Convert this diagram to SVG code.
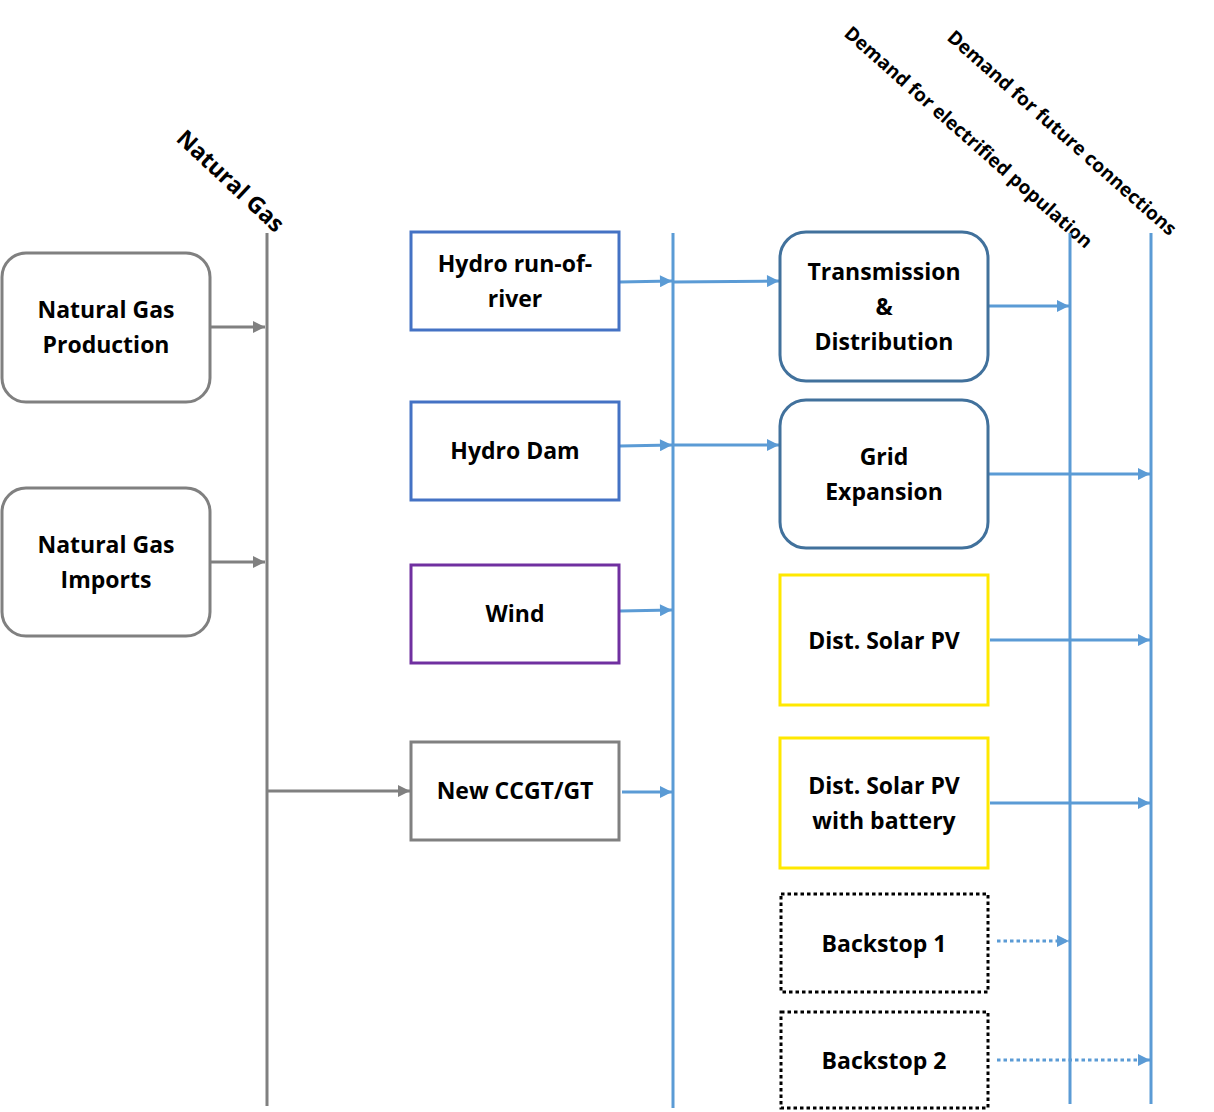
<svg xmlns="http://www.w3.org/2000/svg" width="1214" height="1112" viewBox="0 0 1214 1112">
  <style>
    text { font-family: "Open Sans", "Liberation Sans", sans-serif; font-weight: 700; fill: #000; }
    .lbl { font-size: 23px; text-anchor: middle; }
    .axis { font-size: 19px; }
    .gas { fill: #fff; stroke: #808080; stroke-width: 3; }
    .hydro { fill: #fff; stroke: #4472C4; stroke-width: 3; }
    .wind { fill: #fff; stroke: #7030A0; stroke-width: 3; }
    .grid { fill: #fff; stroke: #41719C; stroke-width: 3; }
    .solar { fill: #fff; stroke: #FFE800; stroke-width: 3; }
    .backstop { fill: #fff; stroke: #000; stroke-width: 3; stroke-dasharray: 3.5 3; }
    .bus-gray { stroke: #808080; stroke-width: 3; fill: none; }
    .bus-blue { stroke: #5B9BD5; stroke-width: 3; fill: none; }
    .flow-gray { stroke: #808080; stroke-width: 3; fill: none; marker-end: url(#arrGray); }
    .flow-blue { stroke: #5B9BD5; stroke-width: 3; fill: none; marker-end: url(#arrBlue); }
    .flow-dot { stroke: #5B9BD5; stroke-width: 3; fill: none; stroke-dasharray: 3.5 3; marker-end: url(#arrBlue); }
  </style>
  <defs>
    <marker id="arrGray" viewBox="0 0 10 10" refX="10" refY="5" markerWidth="4.5" markerHeight="4" orient="auto" markerUnits="strokeWidth">
      <path d="M0,0 L10,5 L0,10 z" fill="#808080"/>
    </marker>
    <marker id="arrBlue" viewBox="0 0 10 10" refX="10" refY="5" markerWidth="4.5" markerHeight="4" orient="auto" markerUnits="strokeWidth">
      <path d="M0,0 L10,5 L0,10 z" fill="#5B9BD5"/>
    </marker>
  </defs>

  <rect width="1214" height="1112" fill="#fff"/>

  <!-- axis labels -->
  <text class="lbl" style="text-anchor:start" transform="translate(175,140) rotate(43)">Natural Gas</text>
  <text class="axis" transform="translate(843,35) rotate(41.5)">Demand for electrified population</text>
  <text class="axis" transform="translate(946,39) rotate(41.5)">Demand for future connections</text>

  <!-- connectors -->
  <g id="connectors">
    <line class="bus-gray" x1="267" y1="233" x2="267" y2="1106"/>
    <line class="bus-blue" x1="673" y1="233" x2="673" y2="1108"/>
    <line class="bus-blue" x1="1070" y1="233" x2="1070" y2="1104"/>
    <line class="bus-blue" x1="1151" y1="233" x2="1151" y2="1104"/>

    <line class="flow-gray" x1="210" y1="327" x2="265" y2="327"/>
    <line class="flow-gray" x1="210" y1="562" x2="265" y2="562"/>
    <line class="flow-gray" x1="267" y1="791" x2="410" y2="791"/>

    <line class="flow-blue" x1="620" y1="282" x2="672" y2="281"/>
    <line class="flow-blue" x1="673" y1="282" x2="779" y2="281"/>
    <line class="flow-blue" x1="620" y1="446" x2="672" y2="445"/>
    <line class="flow-blue" x1="673" y1="445" x2="779" y2="445"/>
    <line class="flow-blue" x1="620" y1="611" x2="672" y2="610"/>
    <line class="flow-blue" x1="622" y1="792" x2="672" y2="792"/>

    <line class="flow-blue" x1="988" y1="306" x2="1069" y2="306"/>
    <line class="flow-blue" x1="988" y1="474" x2="1150" y2="474"/>
    <line class="flow-blue" x1="990" y1="640" x2="1150" y2="640"/>
    <line class="flow-blue" x1="990" y1="803" x2="1150" y2="803"/>
    <line class="flow-dot" x1="997" y1="941" x2="1069" y2="941"/>
    <line class="flow-dot" x1="997" y1="1060" x2="1150" y2="1060"/>
  </g>

  <!-- natural gas supply -->
  <g id="ng-production">
    <rect class="gas" x="2" y="253" width="208" height="149" rx="24"/>
    <text class="lbl" x="106" y="318">Natural Gas</text>
    <text class="lbl" x="106" y="353">Production</text>
  </g>
  <g id="ng-imports">
    <rect class="gas" x="2" y="488" width="208" height="148" rx="24"/>
    <text class="lbl" x="106" y="553">Natural Gas</text>
    <text class="lbl" x="106" y="588">Imports</text>
  </g>

  <!-- generation -->
  <g id="hydro-ror">
    <rect class="hydro" x="411" y="232" width="208" height="98"/>
    <text class="lbl" x="515" y="272">Hydro run-of-</text>
    <text class="lbl" x="515" y="307">river</text>
  </g>
  <g id="hydro-dam">
    <rect class="hydro" x="411" y="402" width="208" height="98"/>
    <text class="lbl" x="515" y="459">Hydro Dam</text>
  </g>
  <g id="wind">
    <rect class="wind" x="411" y="565" width="208" height="98"/>
    <text class="lbl" x="515" y="622">Wind</text>
  </g>
  <g id="ccgt">
    <rect class="gas" x="411" y="742" width="208" height="98"/>
    <text class="lbl" x="515" y="799">New CCGT/GT</text>
  </g>

  <!-- delivery -->
  <g id="t-and-d">
    <rect class="grid" x="780" y="232" width="208" height="149" rx="26"/>
    <text class="lbl" x="884" y="280">Transmission</text>
    <text class="lbl" x="884" y="315">&amp;</text>
    <text class="lbl" x="884" y="350">Distribution</text>
  </g>
  <g id="grid-expansion">
    <rect class="grid" x="780" y="400" width="208" height="148" rx="26"/>
    <text class="lbl" x="884" y="465">Grid</text>
    <text class="lbl" x="884" y="500">Expansion</text>
  </g>
  <g id="solar-pv">
    <rect class="solar" x="780" y="575" width="208" height="130"/>
    <text class="lbl" x="884" y="649">Dist. Solar PV</text>
  </g>
  <g id="solar-pv-battery">
    <rect class="solar" x="780" y="738" width="208" height="130"/>
    <text class="lbl" x="884" y="794">Dist. Solar PV</text>
    <text class="lbl" x="884" y="829">with battery</text>
  </g>
  <g id="backstop-1">
    <rect class="backstop" x="781" y="894" width="207" height="98"/>
    <text class="lbl" x="884" y="952">Backstop 1</text>
  </g>
  <g id="backstop-2">
    <rect class="backstop" x="781" y="1012" width="207" height="96"/>
    <text class="lbl" x="884" y="1069">Backstop 2</text>
  </g>
</svg>
